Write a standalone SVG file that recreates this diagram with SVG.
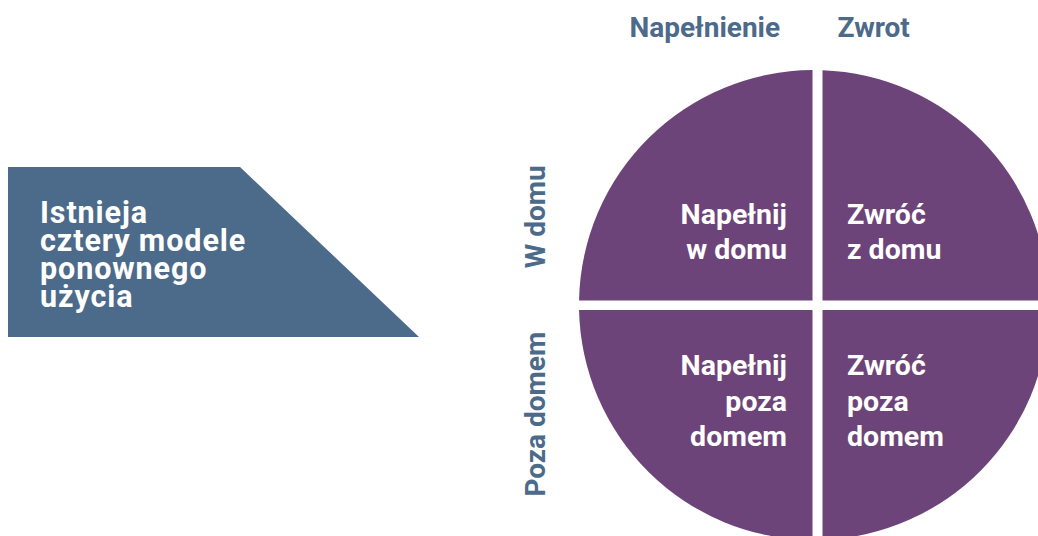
<svg xmlns="http://www.w3.org/2000/svg" width="1038" height="536" viewBox="0 0 1038 536">
  <style>
    .q { fill: #6d4479; }
    .qt { font-family: Roboto, "Liberation Sans", sans-serif; font-weight: 700; font-size: 28.5px; fill: #ffffff; }
    .hd { font-family: Roboto, "Liberation Sans", sans-serif; font-weight: 700; font-size: 28px; fill: #4c6a89; }
    .bx { font-family: Roboto, "Liberation Sans", sans-serif; font-weight: 700; font-size: 30.5px; letter-spacing: 0.9px; fill: #ffffff; }
  </style>
  <rect width="1038" height="536" fill="#ffffff"/>

  <g id="intro">
    <polygon points="8,167 240,167 419,337 8,337" fill="#4c6a89"/>
    <text class="bx" x="40" y="222.5">Istnieja</text>
    <text class="bx" x="40" y="250.8">cztery modele</text>
    <text class="bx" x="40" y="279.1">ponownego</text>
    <text class="bx" x="40" y="307.4">użycia</text>
  </g>

  <g id="headers">
    <text class="hd" x="629.5" y="37.3">Napełnienie</text>
    <text class="hd" x="837.5" y="37.3">Zwrot</text>
    <text class="hd" text-anchor="middle" transform="translate(545 216.7) rotate(-90)">W domu</text>
    <text class="hd" text-anchor="middle" transform="translate(545 414.2) rotate(-90)">Poza domem</text>
  </g>

  <g id="q-napelnij-w-domu">
    <path class="q" d="M812.5,300.5 L812.5,70 A235,235 0 0,0 579.04,300.5 Z"/>
    <text class="qt" text-anchor="end" x="787" y="224.3">Napełnij</text>
    <text class="qt" text-anchor="end" x="787" y="259.3">w domu</text>
  </g>

  <g id="q-zwroc-z-domu">
    <path class="q" d="M822.5,300.5 L822.5,70.15 A235,235 0 0,1 1048.96,300.5 Z"/>
    <text class="qt" x="847" y="224.3">Zwróć</text>
    <text class="qt" x="847" y="259.3">z domu</text>
  </g>

  <g id="q-napelnij-poza-domem">
    <path class="q" d="M812.5,310 L579.05,310 A235,235 0 0,0 812.5,540 Z"/>
    <text class="qt" text-anchor="end" x="787" y="375">Napełnij</text>
    <text class="qt" text-anchor="end" x="787" y="410.5">poza</text>
    <text class="qt" text-anchor="end" x="787" y="446">domem</text>
  </g>

  <g id="q-zwroc-poza-domem">
    <path class="q" d="M822.5,310 L1048.95,310 A235,235 0 0,1 822.5,539.85 Z"/>
    <text class="qt" x="847" y="375">Zwróć</text>
    <text class="qt" x="847" y="410.5">poza</text>
    <text class="qt" x="847" y="446">domem</text>
  </g>

  <g id="connectors"></g>
</svg>
